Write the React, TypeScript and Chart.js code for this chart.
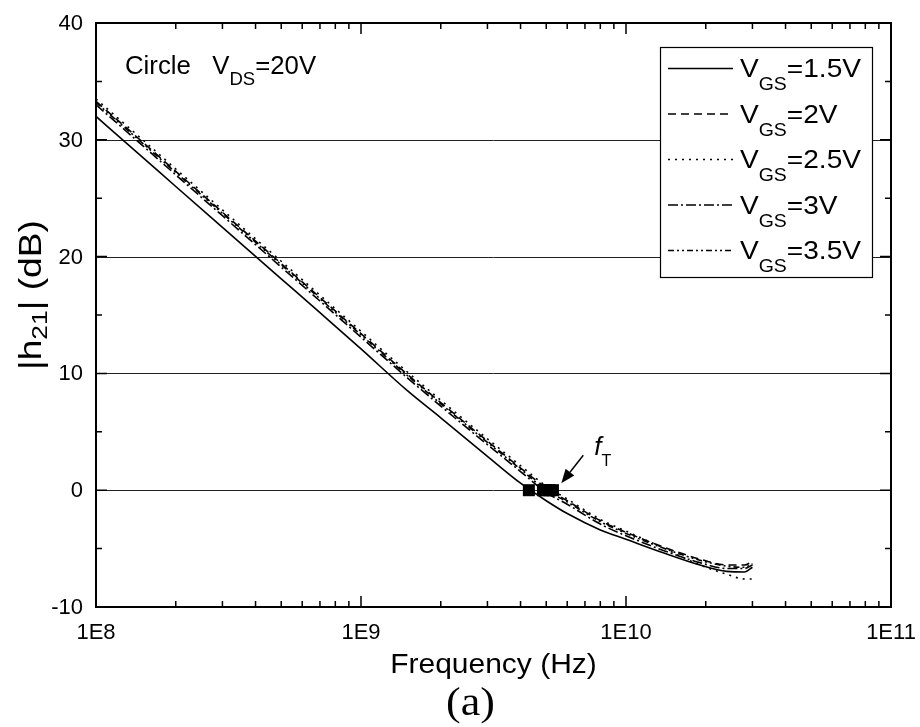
import React, { useEffect, useRef } from "react";
import { Chart, registerables } from "chart.js";

Chart.register(...registerables);

// ---- data ----
const FREQ = [1e8, 1.5e8, 2e8, 3e8, 5e8, 7e8, 1e9, 1.5e9, 2e9, 3e9, 4e9, 5e9, 6e9, 8e9, 1e10, 1.4e10, 1.9e10, 2.4e10, 2.8e10, 3e10];
const VGS_LABELS = ["1.5V", "2V", "2.5V", "3V", "3.5V"];
const H21_VGS15 = [32.0, 28.5, 26.0, 22.5, 18.1, 15.2, 12.1, 8.5, 6.2, 2.9, 0.6, -0.9, -2.0, -3.4, -4.2, -5.4, -6.4, -6.95, -7.0, -6.6];
const H21_VGS20 = [33.3, 29.8, 27.3, 23.8, 19.4, 16.5, 13.4, 9.9, 7.5, 4.2, 1.9, 0.2, -0.9, -2.6, -3.6, -4.9, -5.9, -6.4, -6.4, -6.1];
const H21_VGS25 = [33.5, 30.0, 27.5, 24.0, 19.6, 16.7, 13.6, 10.1, 7.7, 4.4, 2.1, 0.35, -0.75, -2.5, -3.5, -5.0, -6.4, -7.2, -7.6, -7.6];
const H21_VGS30 = [33.0, 29.5, 27.0, 23.5, 19.1, 16.2, 13.1, 9.6, 7.2, 3.9, 1.6, -0.2, -1.2, -2.9, -3.9, -5.2, -6.2, -6.7, -6.7, -6.4];
const H21_VGS35 = [33.2, 29.7, 27.2, 23.7, 19.3, 16.4, 13.3, 9.8, 7.4, 4.1, 1.8, 0.0, -1.0, -2.7, -3.7, -5.0, -6.0, -6.5, -6.6, -6.3];
const FT_FREQ = [4.3e9, 4.86e9, 5.0e9, 5.15e9, 5.3e9];
const FT_GAIN = [0, 0, 0, 0, 0];
const Y_TICKS = [-10, 0, 10, 20, 30, 40];
const Y_GRID = [0, 10, 20, 30];
const X_TICKS = [1e8, 1e9, 1e10, 1e11];
const X_TICK_LABELS = ["1E8", "1E9", "1E10", "1E11"];
const SERIES = [H21_VGS15, H21_VGS20, H21_VGS25, H21_VGS30, H21_VGS35];
const DASHES: number[][] = [[], [8, 5], [2, 5], [10, 3, 2, 3], [6, 3, 2, 3, 2, 3]];

const SANS = "'Liberation Sans', Arial, sans-serif";
const SERIF = "'Liberation Serif', 'Times New Roman', serif";

type Seg = { t: string; font: string; dy: number };

function drawRich(ctx: CanvasRenderingContext2D, segs: Seg[], x: number, y: number, sx: number, align: "left" | "center" | "right") {
  let total = 0;
  const widths = segs.map((s) => {
    ctx.font = s.font;
    const w = ctx.measureText(s.t).width * sx;
    total += w;
    return w;
  });
  let cx = align === "center" ? x - total / 2 : align === "right" ? x - total : x;
  ctx.textAlign = "left";
  ctx.textBaseline = "alphabetic";
  segs.forEach((s, i) => {
    ctx.save();
    ctx.font = s.font;
    ctx.translate(cx, y + s.dy);
    ctx.scale(sx, 1);
    ctx.fillText(s.t, 0, 0);
    ctx.restore();
    cx += widths[i];
  });
  return total;
}

const decor = {
  id: "decor",
  beforeDatasetsDraw(chart: any) {
    const { ctx, chartArea: a, scales } = chart;
    const ys = scales.y;
    ctx.save();
    ctx.strokeStyle = "#222";
    ctx.lineWidth = 1;
    Y_GRID.forEach((v) => {
      const py = Math.round(ys.getPixelForValue(v)) + 0.5;
      ctx.beginPath();
      ctx.moveTo(a.left, py);
      ctx.lineTo(a.right, py);
      ctx.stroke();
    });
    ctx.restore();
  },
  afterDatasetsDraw(chart: any) {
    const { ctx, chartArea: a, scales } = chart;
    const xs = scales.x;
    const ys = scales.y;
    ctx.save();
    ctx.fillStyle = "#000";
    ctx.strokeStyle = "#000";

    // frame
    ctx.lineWidth = 2;
    ctx.strokeRect(a.left, a.top, a.right - a.left, a.bottom - a.top);

    // ticks
    ctx.lineWidth = 1.5;
    const MAJ = 11;
    const MIN = 6;
    const xTick = (v: number, len: number) => {
      const px = xs.getPixelForValue(v);
      ctx.beginPath();
      ctx.moveTo(px, a.bottom);
      ctx.lineTo(px, a.bottom - len);
      ctx.moveTo(px, a.top);
      ctx.lineTo(px, a.top + len);
      ctx.stroke();
    };
    X_TICKS.forEach((v) => xTick(v, MAJ));
    for (let d = 0; d < X_TICKS.length - 1; d++) {
      for (let m = 2; m <= 9; m++) xTick(X_TICKS[d] * m, MIN);
    }
    const yTick = (v: number, len: number) => {
      const py = ys.getPixelForValue(v);
      ctx.beginPath();
      ctx.moveTo(a.left, py);
      ctx.lineTo(a.left + len, py);
      ctx.moveTo(a.right, py);
      ctx.lineTo(a.right - len, py);
      ctx.stroke();
    };
    Y_TICKS.forEach((v) => yTick(v, MAJ));
    for (let i = 0; i < Y_TICKS.length - 1; i++) yTick((Y_TICKS[i] + Y_TICKS[i + 1]) / 2, MIN);

    // tick labels
    ctx.font = `22px ${SANS}`;
    ctx.textAlign = "right";
    ctx.textBaseline = "middle";
    Y_TICKS.forEach((v) => ctx.fillText(String(v), a.left - 13, ys.getPixelForValue(v) + 1));
    ctx.textAlign = "center";
    ctx.textBaseline = "alphabetic";
    X_TICKS.forEach((v, i) => ctx.fillText(X_TICK_LABELS[i], xs.getPixelForValue(v), a.bottom + 32));

    // axis titles
    drawRich(ctx, [{ t: "Frequency (Hz)", font: `27px ${SANS}`, dy: 0 }], (a.left + a.right) / 2, a.bottom + 66, 1.11, "center");
    ctx.save();
    ctx.translate(41, 295);
    ctx.rotate(-Math.PI / 2);
    drawRich(
      ctx,
      [
        { t: "|h", font: `31px ${SANS}`, dy: 0 },
        { t: "21", font: `22px ${SANS}`, dy: 6 },
        { t: "| (dB)", font: `31px ${SANS}`, dy: 0 },
      ],
      0,
      0,
      1.2,
      "center"
    );
    ctx.restore();
    drawRich(ctx, [{ t: "(a)", font: `40px ${SERIF}`, dy: 0 }], (a.left + a.right) / 2 - 23, a.bottom + 108, 1.1, "center");

    // condition text
    drawRich(
      ctx,
      [
        { t: "Circle   V", font: `25px ${SANS}`, dy: 0 },
        { t: "DS", font: `18px ${SANS}`, dy: 11 },
        { t: "=20V", font: `25px ${SANS}`, dy: 0 },
      ],
      a.left + 29,
      a.top + 51,
      1.03,
      "left"
    );

    // legend
    const lx = 660, ly = 47, lw = 212, lh = 230;
    ctx.fillStyle = "#fff";
    ctx.fillRect(lx, ly, lw, lh);
    ctx.strokeStyle = "#000";
    ctx.lineWidth = 1.2;
    ctx.strokeRect(lx + 0.5, ly + 0.5, lw, lh);
    ctx.fillStyle = "#000";
    chart.data.datasets.slice(0, 5).forEach((ds: any, i: number) => {
      const base = 77 + i * 45.5;
      ctx.save();
      ctx.setLineDash(ds.borderDash || []);
      ctx.lineWidth = 1.5;
      ctx.beginPath();
      ctx.moveTo(lx + 8, base - 8.5);
      ctx.lineTo(lx + 73, base - 8.5);
      ctx.stroke();
      ctx.restore();
      drawRich(
        ctx,
        [
          { t: "V", font: `26px ${SANS}`, dy: 0 },
          { t: "GS", font: `18px ${SANS}`, dy: 13 },
          { t: "=" + VGS_LABELS[i], font: `26px ${SANS}`, dy: 0 },
        ],
        lx + 80,
        base,
        1.08,
        "left"
      );
    });

    // f_T annotation with arrow
    const tipX = xs.getPixelForValue(5.7e9);
    const tipY = ys.getPixelForValue(0) - 7;
    const sX = tipX + 22, sY = tipY - 28;
    const dx = tipX - sX, dy = tipY - sY;
    const L = Math.hypot(dx, dy);
    const ux = dx / L, uy = dy / L;
    const hl = 14, hw = 5.5;
    const bx = tipX - ux * hl, by = tipY - uy * hl;
    ctx.lineWidth = 1.5;
    ctx.beginPath();
    ctx.moveTo(sX, sY);
    ctx.lineTo(bx, by);
    ctx.stroke();
    ctx.beginPath();
    ctx.moveTo(tipX, tipY);
    ctx.lineTo(bx + uy * hw, by - ux * hw);
    ctx.lineTo(bx - uy * hw, by + ux * hw);
    ctx.closePath();
    ctx.fill();
    drawRich(
      ctx,
      [
        { t: "f", font: `italic 26px ${SANS}`, dy: 0 },
        { t: "T", font: `16px ${SANS}`, dy: 11 },
      ],
      tipX + 33,
      tipY - 28,
      1.0,
      "left"
    );

    ctx.restore();
  },
};

export default function App() {
  const ref = useRef<HTMLCanvasElement | null>(null);
  useEffect(() => {
    if (!ref.current) return;
    const datasets: any[] = SERIES.map((vals, i) => ({
      label: "VGS=" + VGS_LABELS[i],
      data: FREQ.map((f, j) => ({ x: f, y: vals[j] })),
      borderColor: "#000",
      backgroundColor: "#000",
      borderWidth: 1.6,
      borderDash: DASHES[i],
      pointRadius: 0,
      fill: false,
      cubicInterpolationMode: "monotone",
    }));
    datasets.push({
      label: "fT",
      data: FT_FREQ.map((f, j) => ({ x: f, y: FT_GAIN[j] })),
      showLine: false,
      pointStyle: "rect",
      pointRadius: 8.5,
      pointBorderWidth: 0,
      pointBackgroundColor: "#000",
      pointBorderColor: "#000",
    });
    const chart = new Chart(ref.current, {
      type: "line",
      data: { datasets },
      options: {
        animation: false,
        responsive: false,
        devicePixelRatio: 1,
        layout: { padding: { top: 23, right: 29, left: 0, bottom: 0 } },
        plugins: { legend: { display: false }, tooltip: { enabled: false }, title: { display: false } },
        scales: {
          x: {
            type: "logarithmic",
            min: 1e8,
            max: 1e11,
            grid: { display: false },
            border: { display: false },
            ticks: { display: false },
            afterFit: (s: any) => {
              s.height = 120;
            },
          },
          y: {
            type: "linear",
            min: -10,
            max: 40,
            grid: { display: false },
            border: { display: false },
            ticks: { display: false },
            afterFit: (s: any) => {
              s.width = 96;
            },
          },
        },
      },
      plugins: [decor],
    } as any);
    return () => chart.destroy();
  }, []);
  return (
    <div style={{ position: "absolute", left: 0, top: 0, width: 920, height: 727, background: "#fff" }}>
      <canvas ref={ref} width={920} height={727} />
    </div>
  );
}
